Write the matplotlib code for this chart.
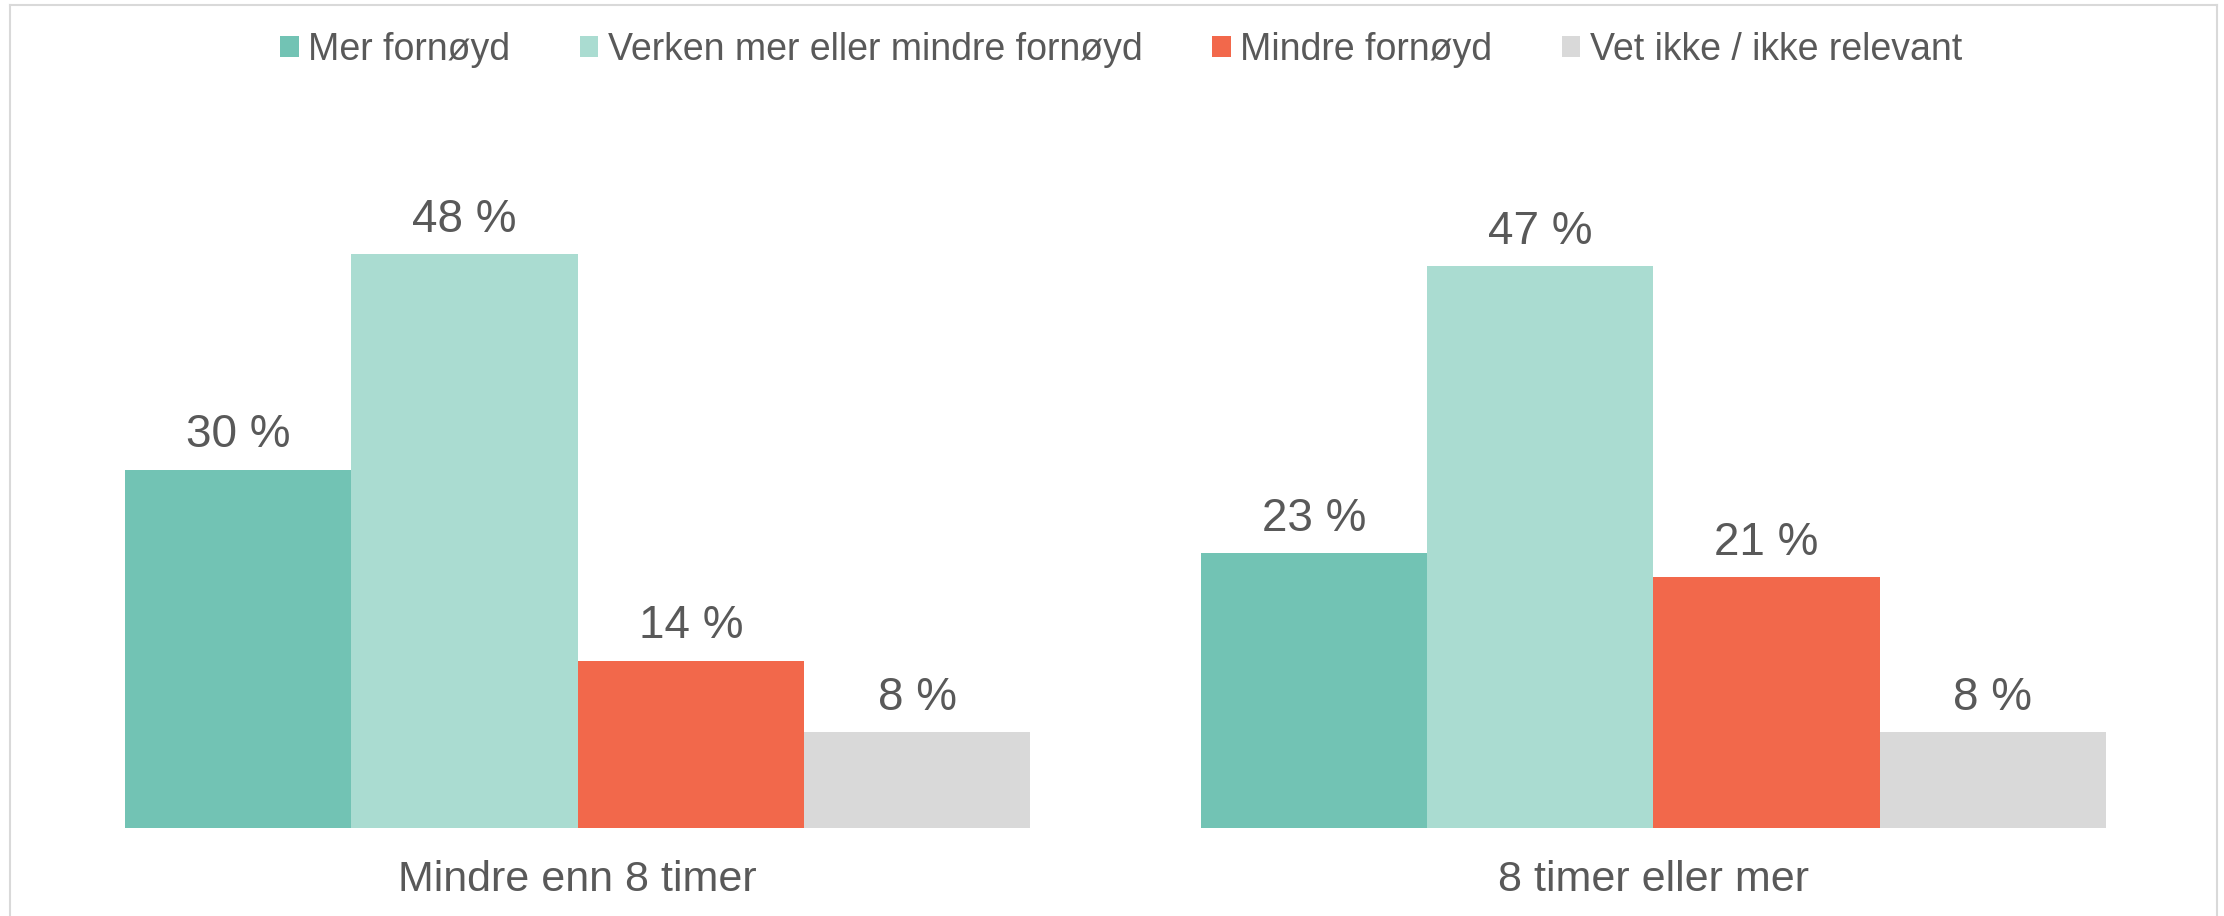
import matplotlib
matplotlib.use("Agg")
import matplotlib.pyplot as plt
from matplotlib.patches import Patch
from matplotlib.lines import Line2D
import numpy as np

plt.rcParams['font.family'] = ['Liberation Sans', 'DejaVu Sans']

categories = ["Mindre enn 8 timer", "8 timer eller mer"]
series_names = ["Mer fornøyd", "Verken mer eller mindre fornøyd",
                "Mindre fornøyd", "Vet ikke / ikke relevant"]
mer_fornoyd = [30, 23]
verken = [48, 47]
mindre_fornoyd = [14, 21]
vet_ikke = [8, 8]

values = [mer_fornoyd, verken, mindre_fornoyd, vet_ikke]
colors = ["#72C3B4", "#AADCD1", "#F2684B", "#D9D9D9"]
text_color = "#595959"

W, H = 2224, 916
fig = plt.figure(figsize=(W / 100, H / 100), dpi=100)

ax_left, ax_right = 40, 2191
ax_bottom = 828
ymax = 55
px_per_unit = 11.95
ax_top = ax_bottom - ymax * px_per_unit
ax = fig.add_axes([ax_left / W, 1 - ax_bottom / H,
                   (ax_right - ax_left) / W, (ax_bottom - ax_top) / H])

x = np.arange(len(categories))
bar_w = 0.2104
offsets = (np.arange(len(series_names)) - 1.5) * bar_w
for vals, off, col, name in zip(values, offsets, colors, series_names):
    bars = ax.bar(x + off, vals, width=bar_w, color=col, label=name,
                  edgecolor='none')
    for b, v in zip(bars, vals):
        ax.annotate(f"{v} %", (b.get_x() + b.get_width() / 2, v),
                    xytext=(0, 16), textcoords='offset points',
                    ha='center', va='baseline', fontsize=33,
                    color=text_color)

ax.set_xlim(-0.5, 1.5)
ax.set_ylim(0, ymax)
ax.set_xticks(x)
ax.set_xticklabels(categories, fontsize=31, color=text_color)
ax.tick_params(axis='x', length=0, pad=23)
ax.set_yticks([])
for s in ax.spines.values():
    s.set_visible(False)

handles = [Patch(facecolor=c, edgecolor='none') for c in colors]
fig.legend(handles, series_names, loc='center',
           bbox_to_anchor=(1121 / W, 1 - 50 / H), ncol=4, frameon=False,
           fontsize=27, labelcolor=text_color, handlelength=0.5,
           handleheight=0.5, handletextpad=0.25, columnspacing=1.85)

# light outer frame
frame_col = "#D9D9D9"
fx0, fx1, fy0 = 10 / W, 2217 / W, 1 - 5 / H
fig.add_artist(Line2D([fx0, fx1], [fy0, fy0], color=frame_col, lw=1.5,
                      transform=fig.transFigure))
fig.add_artist(Line2D([fx0, fx0], [0, fy0], color=frame_col, lw=1.5,
                      transform=fig.transFigure))
fig.add_artist(Line2D([fx1, fx1], [0, fy0], color=frame_col, lw=1.5,
                      transform=fig.transFigure))

fig.savefig("out.png", dpi=100, facecolor="white")
